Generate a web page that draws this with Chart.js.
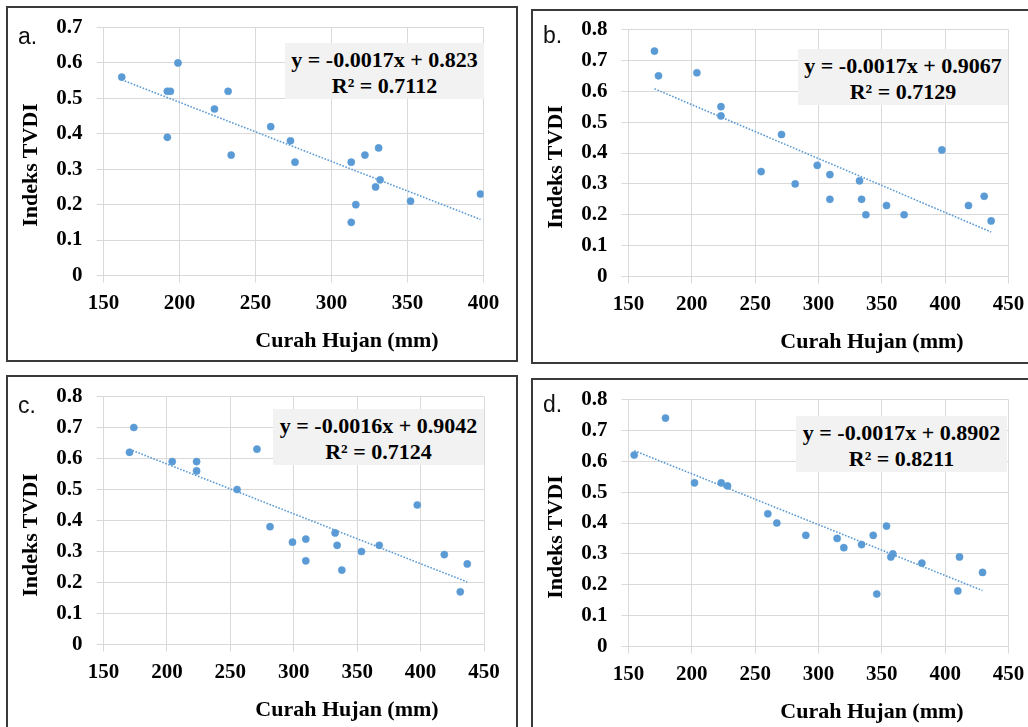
<!DOCTYPE html>
<html>
<head>
<meta charset="utf-8">
<title>Curah Hujan vs Indeks TVDI</title>
<script src="https://cdn.jsdelivr.net/npm/chart.js@4.4.1/dist/chart.umd.min.js"></script>
<style>
  html, body { margin: 0; padding: 0; background: #fff; }
  #page { position: relative; width: 1028px; height: 727px; overflow: hidden; }
  canvas.plot { position: absolute; left: 0; top: 0; }
  .box { position: absolute; box-sizing: border-box; border: 2px solid #3a3a3a; }
  .letter { position: absolute; font: 23px/23px "Liberation Sans", sans-serif; color: #111; }
  .eqn { position: absolute; box-sizing: border-box; background: #f2f2f2; padding-top: 4px;
         font: bold 22px/25.5px "Liberation Serif", serif; text-align: center; color: #000; white-space: nowrap; }
  .xtitle, .ytitle { position: absolute; font: bold 22px/22px "Liberation Serif", serif; color: #000; white-space: nowrap; }
  .xtitle { transform: translate(-50%, -50%); }
  .ytitle { transform: translate(-50%, -50%) rotate(-90deg); }
</style>
</head>
<body>
<div id="page">
  <div class="box" style="left:6px;top:6px;width:512px;height:356px;"></div>
  <div class="box" style="left:531px;top:9px;width:510px;height:355px;"></div>
  <div class="box" style="left:6px;top:375px;width:512px;height:370px;"></div>
  <div class="box" style="left:531px;top:378px;width:510px;height:370px;"></div>

  <canvas class="plot" id="chartA" width="1028" height="727"></canvas>
  <canvas class="plot" id="chartB" width="1028" height="727"></canvas>
  <canvas class="plot" id="chartC" width="1028" height="727"></canvas>
  <canvas class="plot" id="chartD" width="1028" height="727"></canvas>

  <div class="letter" style="left:18px;top:25px;">a.</div>
  <div class="letter" style="left:543px;top:24px;">b.</div>
  <div class="letter" style="left:18px;top:394px;">c.</div>
  <div class="letter" style="left:543px;top:393px;">d.</div>

  <div class="eqn" style="left:285px;top:43px;width:199px;height:56px;">y = -0.0017x + 0.823<br>R² = 0.7112</div>
  <div class="eqn" style="left:798px;top:49px;width:210px;height:56px;">y = -0.0017x + 0.9067<br>R² = 0.7129</div>
  <div class="eqn" style="left:273px;top:409px;width:211px;height:56px;">y = -0.0016x + 0.9042<br>R² = 0.7124</div>
  <div class="eqn" style="left:796px;top:416px;width:211px;height:56px;">y = -0.0017x + 0.8902<br>R² = 0.8211</div>

  <div class="xtitle" style="left:347px;top:340px;">Curah Hujan (mm)</div>
  <div class="xtitle" style="left:872px;top:341px;">Curah Hujan (mm)</div>
  <div class="xtitle" style="left:347px;top:709px;">Curah Hujan (mm)</div>
  <div class="xtitle" style="left:872px;top:711px;">Curah Hujan (mm)</div>

  <div class="ytitle" style="left:30px;top:165px;">Indeks TVDI</div>
  <div class="ytitle" style="left:555px;top:167px;">Indeks TVDI</div>
  <div class="ytitle" style="left:30px;top:535px;">Indeks TVDI</div>
  <div class="ytitle" style="left:555px;top:537px;">Indeks TVDI</div>
</div>

<script>
// Panel a
const rainA = [162, 199, 192, 194, 192, 223, 232, 234, 260, 273, 276, 313, 313, 316, 322, 331, 332, 329, 352, 398];
const tvdiA = [0.56, 0.60, 0.52, 0.52, 0.39, 0.47, 0.52, 0.34, 0.42, 0.38, 0.32, 0.32, 0.15, 0.20, 0.34, 0.36, 0.27, 0.25, 0.21, 0.23];

// Panel b
const rainB = [170.5, 173.7, 204, 223, 223, 254.7, 270.8, 281.6, 299, 309, 309, 332.4, 334, 337.4, 353.7, 367.6, 397.4, 418.4, 430.8, 436.3];
const tvdiB = [0.73, 0.65, 0.66, 0.55, 0.52, 0.34, 0.46, 0.30, 0.36, 0.33, 0.25, 0.31, 0.25, 0.20, 0.23, 0.20, 0.41, 0.23, 0.26, 0.18];

// Panel c
const rainC = [170.5, 173.9, 204.2, 223.4, 223.4, 255.3, 271, 281.3, 299, 309.5, 309.5, 332.6, 334.2, 337.9, 353.4, 367.4, 397.4, 418.7, 431.3, 436.8];
const tvdiC = [0.62, 0.70, 0.59, 0.59, 0.56, 0.50, 0.63, 0.38, 0.33, 0.34, 0.27, 0.36, 0.32, 0.24, 0.30, 0.32, 0.45, 0.29, 0.17, 0.26];

// Panel d
const rainD = [154.5, 179.2, 202.1, 223.2, 228.2, 260, 267.1, 290, 314.7, 320, 334, 343.2, 346, 353.7, 357.1, 358.7, 381.6, 410, 411.3, 429.5];
const tvdiD = [0.62, 0.74, 0.53, 0.53, 0.52, 0.43, 0.40, 0.36, 0.35, 0.32, 0.33, 0.36, 0.17, 0.39, 0.29, 0.30, 0.27, 0.18, 0.29, 0.24];

// Axis ranges
const xMinAll = 150;
const xMaxA = 400;
const xMaxOther = 450;
const xStep = 50;
const yMaxA = 0.7;
const yMaxOther = 0.8;
const yStep = 0.1;

const BLUE = '#5b9bd5';
const GRID = '#d9d9d9';
const W = 1028, H = 727;
const AXIS_W = 90, AXIS_H = 45;

// Least squares line, drawn from smallest to largest x (like the Excel trendline)
function trend(xs, ys) {
  const n = xs.length;
  const mx = xs.reduce((a, b) => a + b, 0) / n;
  const my = ys.reduce((a, b) => a + b, 0) / n;
  let sxy = 0, sxx = 0;
  xs.forEach((x, i) => { sxy += (x - mx) * (ys[i] - my); sxx += (x - mx) * (x - mx); });
  const slope = sxy / sxx;
  const icpt = my - slope * mx;
  const x0 = Math.min(...xs), x1 = Math.max(...xs);
  return [{ x: x0, y: icpt + slope * x0 }, { x: x1, y: icpt + slope * x1 }];
}

// Force axis box sizes so the plot area lands where the original had it
function fixAxis(w, h) {
  return scale => {
    if (w != null) scale.width = w;
    if (h != null) scale.height = h;
    scale.paddingLeft = scale.paddingRight = scale.paddingTop = scale.paddingBottom = 0;
  };
}

function makePanel(id, xs, ys, xMax, yMax, area) {
  const ctx = document.getElementById(id).getContext('2d');
  const font = { family: '"Liberation Serif", serif', size: 21, weight: 'bold' };
  return new Chart(ctx, {
    type: 'scatter',
    data: {
      datasets: [
        {
          data: xs.map((x, i) => ({ x: x, y: ys[i] })),
          backgroundColor: BLUE,
          borderColor: BLUE,
          borderWidth: 0.5,
          pointRadius: 3.6
        },
        {
          type: 'line',
          data: trend(xs, ys),
          borderColor: BLUE,
          borderWidth: 1.6,
          borderDash: [1.6, 1.6],
          pointRadius: 0,
          fill: false
        }
      ]
    },
    options: {
      responsive: false,
      animation: false,
      devicePixelRatio: 1,
      layout: {
        padding: {
          left: area.left - AXIS_W,
          top: area.top,
          right: W - area.right,
          bottom: H - area.bottom - AXIS_H
        }
      },
      plugins: { legend: { display: false }, tooltip: { enabled: false } },
      scales: {
        x: {
          type: 'linear',
          min: xMinAll,
          max: xMax,
          afterFit: fixAxis(null, AXIS_H),
          ticks: { stepSize: xStep, color: '#000', font: font, padding: 8, maxRotation: 0 },
          grid: { color: GRID, tickColor: GRID, tickLength: 7, lineWidth: 1 },
          border: { color: GRID }
        },
        y: {
          min: 0,
          max: yMax,
          afterFit: fixAxis(AXIS_W, null),
          ticks: { stepSize: yStep, color: '#000', font: font, padding: 14 },
          grid: { color: GRID, tickColor: GRID, tickLength: 7, lineWidth: 1 },
          border: { color: GRID }
        }
      }
    }
  });
}

makePanel('chartA', rainA, tvdiA, xMaxA, yMaxA, { left: 103.5, top: 27.5, right: 483.5, bottom: 275.5 });
makePanel('chartB', rainB, tvdiB, xMaxOther, yMaxOther, { left: 628.5, top: 29.5, right: 1008.5, bottom: 276.5 });
makePanel('chartC', rainC, tvdiC, xMaxOther, yMaxOther, { left: 103.5, top: 396.5, right: 484, bottom: 644.5 });
makePanel('chartD', rainD, tvdiD, xMaxOther, yMaxOther, { left: 628.5, top: 399.5, right: 1008.5, bottom: 646.5 });
</script>
</body>
</html>
